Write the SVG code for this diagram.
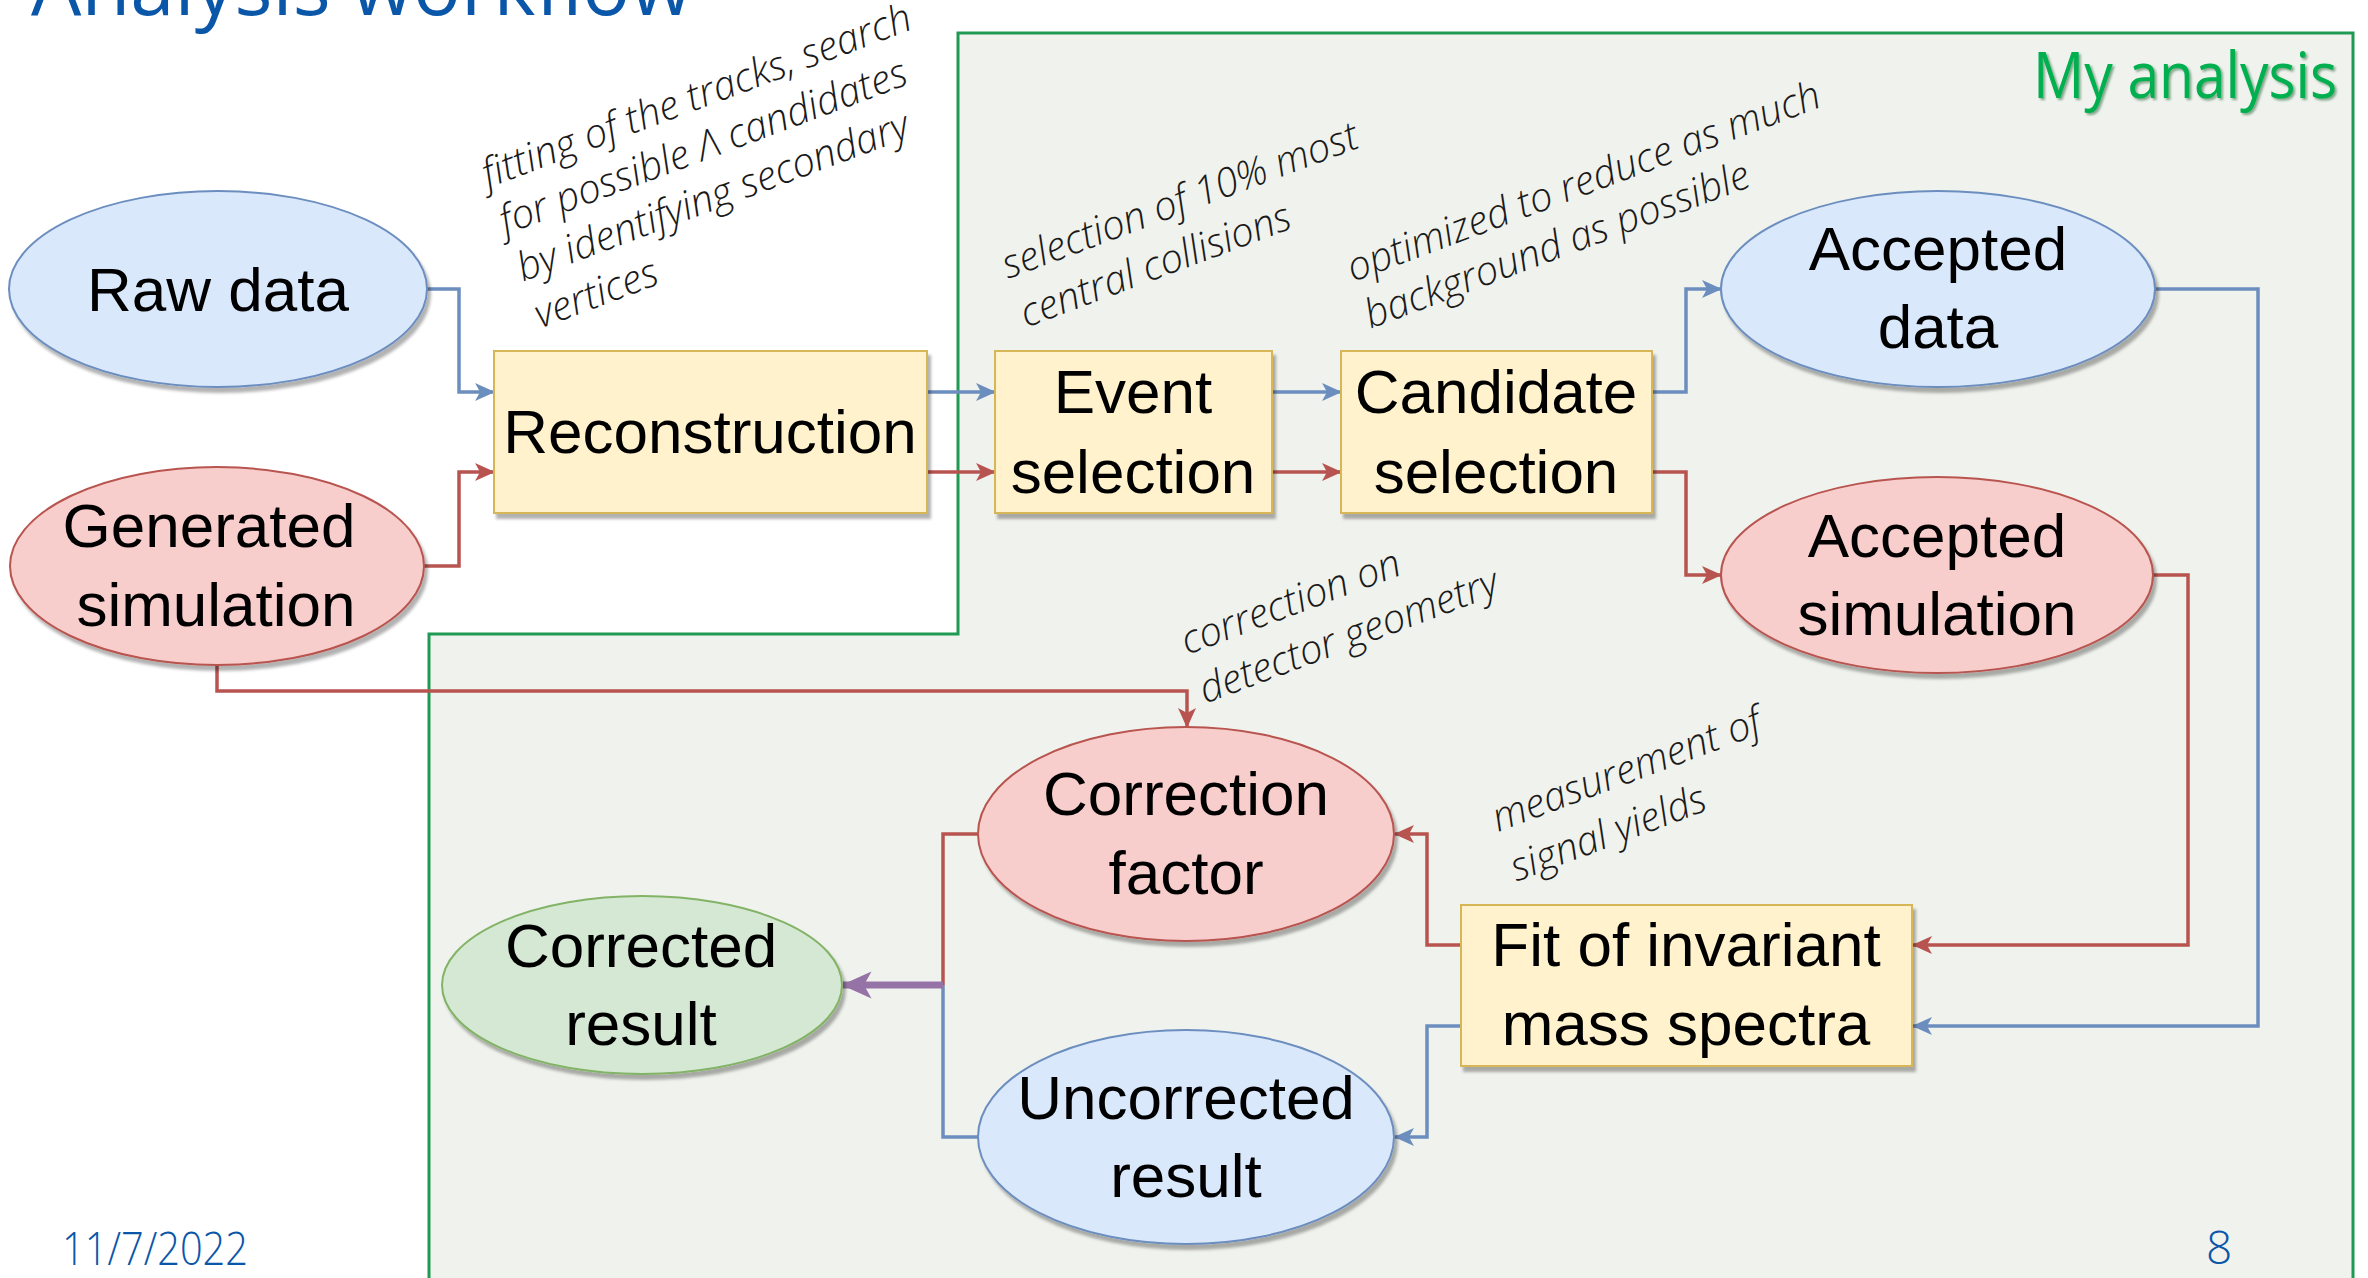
<svg xmlns="http://www.w3.org/2000/svg" width="2368" height="1278" viewBox="0 0 2368 1278">
<defs>
<style>
.lbl{font-family:"Liberation Sans",Arial,sans-serif;font-size:62px;fill:#000;text-anchor:middle}
.ann{font-family:"Open Sans","Noto Sans",sans-serif;font-style:italic;font-weight:300;font-size:40px;fill:#1a1a1a}
.slide{font-family:"Open Sans","Noto Sans",sans-serif;fill:#0a56a8}
.blue{fill:#dae8fc;stroke:#6c8ebf;stroke-width:2}
.red{fill:#f8cecc;stroke:#b85450;stroke-width:2}
.green{fill:#d5e8d4;stroke:#82b366;stroke-width:2}
.yel{fill:#fff2cc;stroke:#d6b656;stroke-width:2}
.cb{fill:none;stroke:#6c8ebf;stroke-width:3.5}
.cr{fill:none;stroke:#b85450;stroke-width:3.5}
.cp{fill:none;stroke:#9673a6;stroke-width:7}
</style>
<filter id="sh" x="-10%" y="-10%" width="130%" height="130%">
<feDropShadow dx="3" dy="5" stdDeviation="1.5" flood-color="#000" flood-opacity="0.3"/>
</filter>
<filter id="tsh" x="-5%" y="-10%" width="110%" height="130%">
<feDropShadow dx="2" dy="2" stdDeviation="1" flood-color="#0a5a2a" flood-opacity="0.5"/>
</filter>
<marker id="ab" viewBox="0 0 20 20" refX="19" refY="10" markerWidth="20" markerHeight="20" markerUnits="userSpaceOnUse" orient="auto">
<path d="M0,1 L20,10 L0,19 L5,10 Z" fill="#6c8ebf"/>
</marker>
<marker id="ar" viewBox="0 0 20 20" refX="19" refY="10" markerWidth="20" markerHeight="20" markerUnits="userSpaceOnUse" orient="auto">
<path d="M0,1 L20,10 L0,19 L5,10 Z" fill="#b85450"/>
</marker>
<marker id="ap" viewBox="0 0 20 20" refX="19" refY="10" markerWidth="30" markerHeight="30" markerUnits="userSpaceOnUse" orient="auto">
<path d="M0,1 L20,10 L0,19 L5,10 Z" fill="#9673a6"/>
</marker>
</defs>
<rect width="2368" height="1278" fill="#fff"/>

<g id="title">
<text class="slide" x="31" y="15" font-size="80" textLength="661" lengthAdjust="spacingAndGlyphs">Analysis workflow</text>
</g>

<g id="my-analysis">
<polygon points="958,33 2353,33 2353,1290 429,1290 429,634 958,634" fill="#f0f2ed" stroke="#1e9a52" stroke-width="3"/>
<text x="2033" y="98" font-family="'Open Sans','Noto Sans',sans-serif" font-size="64" fill="#00b050" filter="url(#tsh)" textLength="304" lengthAdjust="spacingAndGlyphs">My analysis</text>
</g>

<g id="annotations" class="ann">
<text transform="translate(488,188) rotate(-20.5)"><tspan x="0" y="0">fitting of the tracks, search</tspan><tspan x="0" y="50">for possible Λ candidates</tspan><tspan x="0" y="100">by identifying secondary</tspan><tspan x="0" y="150">vertices</tspan></text>
<text transform="translate(1008,279) rotate(-20.5)"><tspan x="0" y="0">selection of 10% most</tspan><tspan x="0" y="52">central collisions</tspan></text>
<text transform="translate(1353,282) rotate(-20.5)"><tspan x="0" y="0">optimized to reduce as much</tspan><tspan x="0" y="50">background as possible</tspan></text>
<text transform="translate(1187,655) rotate(-20.5)"><tspan x="0" y="0">correction on</tspan><tspan x="0" y="52">detector geometry</tspan></text>
<text transform="translate(1498,832) rotate(-20.5)"><tspan x="0" y="0">measurement of</tspan><tspan x="0" y="53">signal yields</tspan></text>
</g>

<g id="connectors">
<path class="cb" d="M427,289 H459 V392 H494" marker-end="url(#ab)"/>
<path class="cr" d="M424,566 H459 V472 H494" marker-end="url(#ar)"/>
<path class="cb" d="M927,392 H995" marker-end="url(#ab)"/>
<path class="cr" d="M927,472 H995" marker-end="url(#ar)"/>
<path class="cb" d="M1272,392 H1341" marker-end="url(#ab)"/>
<path class="cr" d="M1272,472 H1341" marker-end="url(#ar)"/>
<path class="cb" d="M1652,392 H1686 V289 H1721" marker-end="url(#ab)"/>
<path class="cr" d="M1652,472 H1686 V575 H1721" marker-end="url(#ar)"/>
<path class="cb" d="M2155,289 H2258 V1026 H1913" marker-end="url(#ab)"/>
<path class="cr" d="M2153,575 H2188 V945 H1913" marker-end="url(#ar)"/>
<path class="cr" d="M1461,945 H1427 V834 H1395" marker-end="url(#ar)"/>
<path class="cb" d="M1461,1026 H1427 V1137 H1395" marker-end="url(#ab)"/>
<path class="cr" d="M217,665 V691 H1187 V727" marker-end="url(#ar)"/>
<path class="cr" d="M978,834 H943 V985"/>
<path class="cb" d="M978,1137 H943 V985"/>
<path class="cp" d="M943,985 H843" marker-end="url(#ap)"/>
</g>

<g id="raw-data" filter="url(#sh)">
<ellipse class="blue" cx="218" cy="289" rx="209" ry="98"/>
<text class="lbl" x="218" y="311">Raw data</text>
</g>
<g id="generated-simulation" filter="url(#sh)">
<ellipse class="red" cx="217" cy="566" rx="207" ry="99"/>
<text class="lbl" x="209" y="547">Generated</text>
<text class="lbl" x="216" y="626">simulation</text>
</g>
<g id="reconstruction" filter="url(#sh)">
<rect class="yel" x="494" y="351" width="433" height="162"/>
<text class="lbl" x="710" y="453">Reconstruction</text>
</g>
<g id="event-selection" filter="url(#sh)">
<rect class="yel" x="995" y="351" width="277" height="162"/>
<text class="lbl" x="1133" y="413">Event</text>
<text class="lbl" x="1133" y="493">selection</text>
</g>
<g id="candidate-selection" filter="url(#sh)">
<rect class="yel" x="1341" y="351" width="311" height="162"/>
<text class="lbl" x="1496" y="413">Candidate</text>
<text class="lbl" x="1496" y="493">selection</text>
</g>
<g id="accepted-data" filter="url(#sh)">
<ellipse class="blue" cx="1938" cy="289" rx="217" ry="98"/>
<text class="lbl" x="1938" y="270">Accepted</text>
<text class="lbl" x="1938" y="348">data</text>
</g>
<g id="accepted-simulation" filter="url(#sh)">
<ellipse class="red" cx="1937" cy="575" rx="216" ry="98"/>
<text class="lbl" x="1937" y="557">Accepted</text>
<text class="lbl" x="1937" y="635">simulation</text>
</g>
<g id="fit" filter="url(#sh)">
<rect class="yel" x="1461" y="905" width="451" height="161"/>
<text class="lbl" x="1686" y="966">Fit of invariant</text>
<text class="lbl" x="1686" y="1045">mass spectra</text>
</g>
<g id="correction-factor" filter="url(#sh)">
<ellipse class="red" cx="1186" cy="834" rx="208" ry="107"/>
<text class="lbl" x="1186" y="815">Correction</text>
<text class="lbl" x="1186" y="894">factor</text>
</g>
<g id="uncorrected-result" filter="url(#sh)">
<ellipse class="blue" cx="1186" cy="1137" rx="208" ry="107"/>
<text class="lbl" x="1186" y="1119">Uncorrected</text>
<text class="lbl" x="1186" y="1197">result</text>
</g>
<g id="corrected-result" filter="url(#sh)">
<ellipse class="green" cx="642" cy="985" rx="200" ry="89"/>
<text class="lbl" x="641" y="967">Corrected</text>
<text class="lbl" x="641" y="1045">result</text>
</g>

<g id="footer">
<text class="slide" x="62" y="1265" font-size="46" font-weight="300" textLength="186" lengthAdjust="spacingAndGlyphs">11/7/2022</text>
<text class="slide" x="2206" y="1264" font-size="46" font-weight="300">8</text>
</g>
</svg>
